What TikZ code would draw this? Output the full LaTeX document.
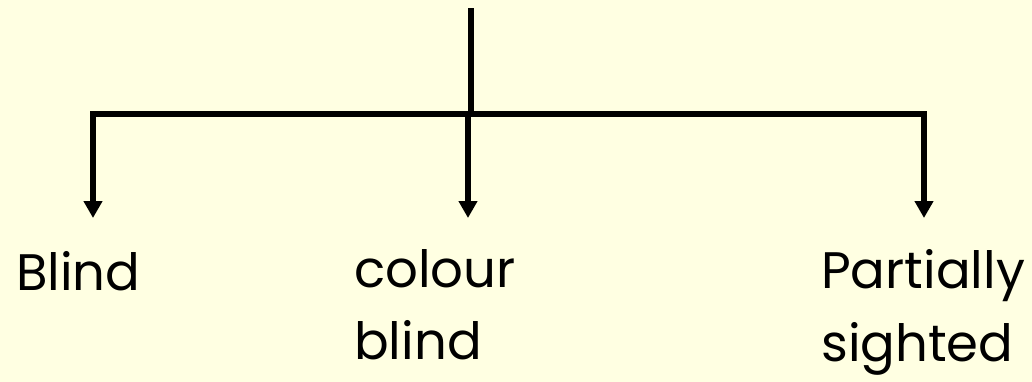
\documentclass[tikz,border=0pt]{standalone}
\usepackage{fontspec}
\setmainfont{Poppins}
\usepackage{tikz}
\usetikzlibrary{arrows.meta,positioning}
\definecolor{paleyellow}{RGB}{255,255,226}

\begin{document}
\begin{tikzpicture}[x=0.75pt,y=-0.75pt,
    stem/.style={line width=4.5pt, line join=miter},
    branch/.style={line width=4.5pt, line join=miter, -{Triangle[length=12.75pt,width=13.5pt]}},
    word/.style={inner sep=0pt, align=left, font=\fontsize{38.5}{54.5}\selectfont}]
        % Background and page size
        \fill[paleyellow] (0,0) rectangle (1032,382);
        \useasboundingbox (0,0) rectangle (1032,382);
        % Define coordinates
        \coordinate (top) at (471,8);
        \coordinate (hub) at (471,114);
        \coordinate (mid) at (468,114);
        \coordinate (blindtip) at (93,218);
        \coordinate (colourtip) at (468,218);
        \coordinate (partialtip) at (924,218);
        % Labels
        \node[word, anchor=base west] (blind) at (16,290) {Blind};
        \node[word, anchor=north west] (colour) at (354,249) {colour\\blind};
        \node[word, anchor=north west] (partial) at (821,249) {Partially\\sighted};
        % Draw the tree
        \draw[stem] (top) -- (hub);
        \draw[branch] (hub) -| (blindtip);
        \draw[branch] (hub) -| (partialtip);
        \draw[branch] (mid) -- (colourtip);
\end{tikzpicture}
\end{document}
